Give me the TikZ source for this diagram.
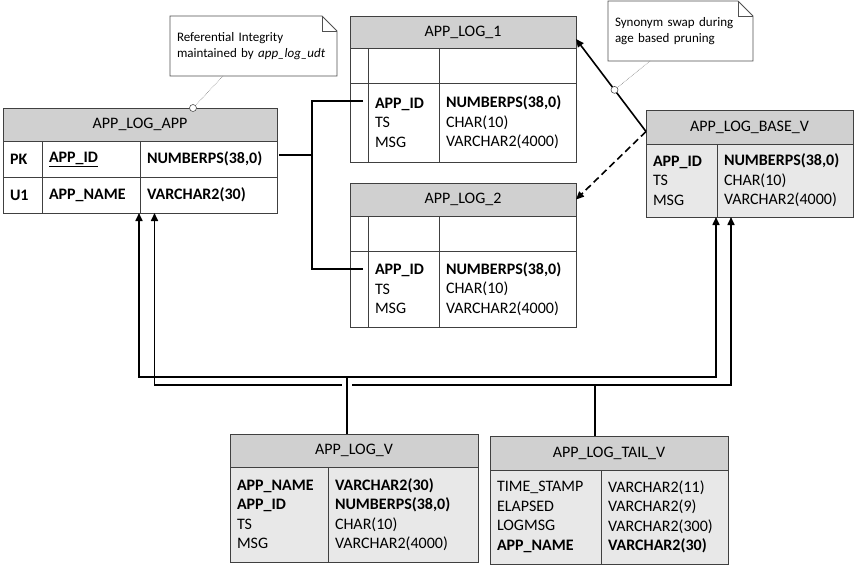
\documentclass[tikz,border=0pt]{standalone}
\usepackage{fontspec}
\setmainfont{Carlito}
\usepackage{tikz}
\usetikzlibrary{arrows.meta}
\usetikzlibrary{calc}
\usetikzlibrary{scopes}
\definecolor{hdrgray}{RGB}{208,208,208}
\definecolor{viewgray}{RGB}{232,232,232}
\definecolor{edgegray}{RGB}{64,64,64}
\definecolor{notegray}{RGB}{80,80,80}
\newcommand\tabfont{\fontsize{16}{19.5}\selectfont}
\newcommand\notefont{\fontsize{13}{16}\selectfont}
\tikzset{cell/.style 2 args={draw=edgegray, line width=0.8pt, inner xsep=7pt,
            inner ysep=0pt, outer sep=0pt, anchor=north west, align=left,
            minimum width=#1, text width=#1-14pt, minimum height=#2, font=\tabfont},
         head/.style={fill=hdrgray, align=center},
         viewbody/.style={fill=viewgray},
         link/.style={draw=black, line width=1.6pt},
         arrowed/.style={-{Triangle[length=8pt,width=7pt]}},
         pin/.style={circle, draw=notegray, fill=white, line width=0.6pt,
            inner sep=0pt, minimum size=7pt},
         note/.style={inner xsep=7pt, inner ysep=0pt, outer sep=0pt,
            anchor=north west, align=left, font=\notefont},
         noteline/.style={draw=notegray, line width=0.8pt, fill=white},
         pinline/.style={draw=gray, line width=0.6pt, densely dotted}}

\begin{document}
\begin{tikzpicture}[x=1pt, y=-1pt]
\useasboundingbox [fill=white] (0,0) rectangle (855,565);
%
{ [shift={(3,108)}]
    \node [cell={274pt}{33pt}, head] (appH) at (0,0) {APP\_LOG\_APP};
    \node [cell={39pt}{36pt}] (appK1) at (0,33) {\textbf{PK}};
    \node [cell={98pt}{36pt}] (appN1) at (39,33) {\textbf{\underline{APP\_ID}}};
    \node [cell={137pt}{36pt}] (appT1) at (137,33) {\textbf{NUMBERPS(38,0)}};
    \node [cell={39pt}{36pt}] (appK2) at (0,69) {\textbf{U1}};
    \node [cell={98pt}{36pt}] (appN2) at (39,69) {\textbf{APP\_NAME}};
    \node [cell={137pt}{36pt}] (appT2) at (137,69) {\textbf{VARCHAR2(30)}};
}
%
{ [shift={(350,16)}]
    \node [cell={226pt}{32pt}, head] (lg1H) at (0,0) {APP\_LOG\_1};
    \node [cell={18pt}{35pt}] (lg1K1) at (0,32) {};
    \node [cell={71pt}{35pt}] (lg1N1) at (18,32) {};
    \node [cell={137pt}{35pt}] (lg1T1) at (89,32) {};
    \node [cell={18pt}{79pt}] (lg1K2) at (0,67) {};
    \node [cell={71pt}{79pt}] (lg1N2) at (18,67) {\textbf{APP\_ID}\\TS\\MSG};
    \node [cell={137pt}{79pt}] (lg1T2) at (89,67)
        {\textbf{NUMBERPS(38,0)}\\CHAR(10)\\VARCHAR2(4000)};
}
%
{ [shift={(350,183)}]
    \node [cell={226pt}{33pt}, head] (lg2H) at (0,0) {APP\_LOG\_2};
    \node [cell={18pt}{35pt}] (lg2K1) at (0,33) {};
    \node [cell={71pt}{35pt}] (lg2N1) at (18,33) {};
    \node [cell={137pt}{35pt}] (lg2T1) at (89,33) {};
    \node [cell={18pt}{76pt}] (lg2K2) at (0,68) {};
    \node [cell={71pt}{76pt}] (lg2N2) at (18,68) {\textbf{APP\_ID}\\TS\\MSG};
    \node [cell={137pt}{76pt}] (lg2T2) at (89,68)
        {\textbf{NUMBERPS(38,0)}\\CHAR(10)\\VARCHAR2(4000)};
}
%
{ [shift={(646,110)}]
    \node [cell={207pt}{34pt}, head] (baseH) at (0,0) {APP\_LOG\_BASE\_V};
    \node [cell={71pt}{73pt}, viewbody] (baseN) at (0,34) {\textbf{APP\_ID}\\TS\\MSG};
    \node [cell={136pt}{73pt}, viewbody] (baseT) at (71,34)
        {\textbf{NUMBERPS(38,0)}\\CHAR(10)\\VARCHAR2(4000)};
}
%
{ [shift={(230,434)}]
    \node [cell={248pt}{33pt}, head] (lvH) at (0,0) {APP\_LOG\_V};
    \node [cell={98pt}{95pt}, viewbody] (lvN) at (0,33)
        {\textbf{APP\_NAME}\\\textbf{APP\_ID}\\TS\\MSG};
    \node [cell={150pt}{95pt}, viewbody] (lvT) at (98,33)
        {\textbf{VARCHAR2(30)}\\\textbf{NUMBERPS(38,0)}\\CHAR(10)\\VARCHAR2(4000)};
}
%
{ [shift={(490,436)}]
    \node [cell={238pt}{34pt}, head] (tailH) at (0,0) {APP\_LOG\_TAIL\_V};
    \node [cell={111pt}{94pt}, viewbody] (tailN) at (0,34)
        {TIME\_STAMP\\ELAPSED\\LOGMSG\\\textbf{APP\_NAME}};
    \node [cell={127pt}{94pt}, viewbody] (tailT) at (111,34)
        {VARCHAR2(11)\\VARCHAR2(9)\\VARCHAR2(300)\\\textbf{VARCHAR2(30)}};
}
%
% key of APP_LOG_APP into both log tables
\draw [link] ([xshift=2pt,yshift=4pt]appT1.east) -- ++(33,0) coordinate (split);
\draw [link] ([xshift=-5pt,yshift=-18pt]lg1K2.north east) -| (split);
\draw [link] ([xshift=-5pt,yshift=-18pt]lg2K2.north east) -| (split);
%
% views
\draw [link] ([xshift=-14pt]tailH.north) -- ++(0,-51) coordinate (tailup);
\draw [link, arrowed] (tailup) -| ([xshift=14.5pt]appT2.south west);
\draw [link, arrowed] (tailup) -| ([xshift=14pt]baseT.south west);
\draw [link, preaction={draw=white, line width=10pt}]
    ([xshift=-7pt]lvH.north) -- ++(0,-57) coordinate (lvup);
\draw [link, arrowed] (lvup) -| ([xshift=-1pt]appN2.south east);
\draw [link, arrowed] (lvup) -| ([xshift=-1pt]baseN.south east);
%
% synonym swap
\draw [link, arrowed] ([yshift=-4.5pt]baseH.west) -- ([yshift=-7pt]lg1H.east)
    node [pin, pos=0.45] (pin2) {};
\draw [link, arrowed, dash pattern=on 7pt off 4pt]
    ([yshift=-4.5pt]baseH.west) -- (lg2H.east);
%
% notes
\node [note, minimum width=167pt, minimum height=60pt, text width=153pt]
    (note1) at (170,16) {\phantom{x}};
\draw [noteline] (note1.north west) -- ([xshift=-15pt]note1.north east)
    -- ([yshift=-15pt]note1.north east) -- (note1.south east)
    -- (note1.south west) -- cycle;
\draw [noteline, fill=none, line width=0.5pt] ([xshift=-15pt]note1.north east)
    |- ([yshift=-15pt]note1.north east);
\node [note, text width=153pt, anchor=west] (text1) at (note1.west)
    {Referential Integrity\\maintained by \textit{app\_log\_udt}};
\node [pin] (pin1) at ([xshift=53pt]appH.north) {};
\draw [pinline] ([xshift=53pt]note1.south west) -- (pin1);
%
\node [note, minimum width=145pt, minimum height=60pt, text width=131pt]
    (note2) at (608,1) {\phantom{x}};
\draw [noteline] (note2.north west) -- ([xshift=-15pt]note2.north east)
    -- ([yshift=-15pt]note2.north east) -- (note2.south east)
    -- (note2.south west) -- cycle;
\draw [noteline, fill=none, line width=0.5pt] ([xshift=-15pt]note2.north east)
    |- ([yshift=-15pt]note2.north east);
\node [note, text width=131pt, anchor=west] (text2) at (note2.west)
    {Synonym swap during\\age based pruning};
\draw [pinline] ([xshift=42pt]note2.south west) -- (pin2);
\end{tikzpicture}
\end{document}
